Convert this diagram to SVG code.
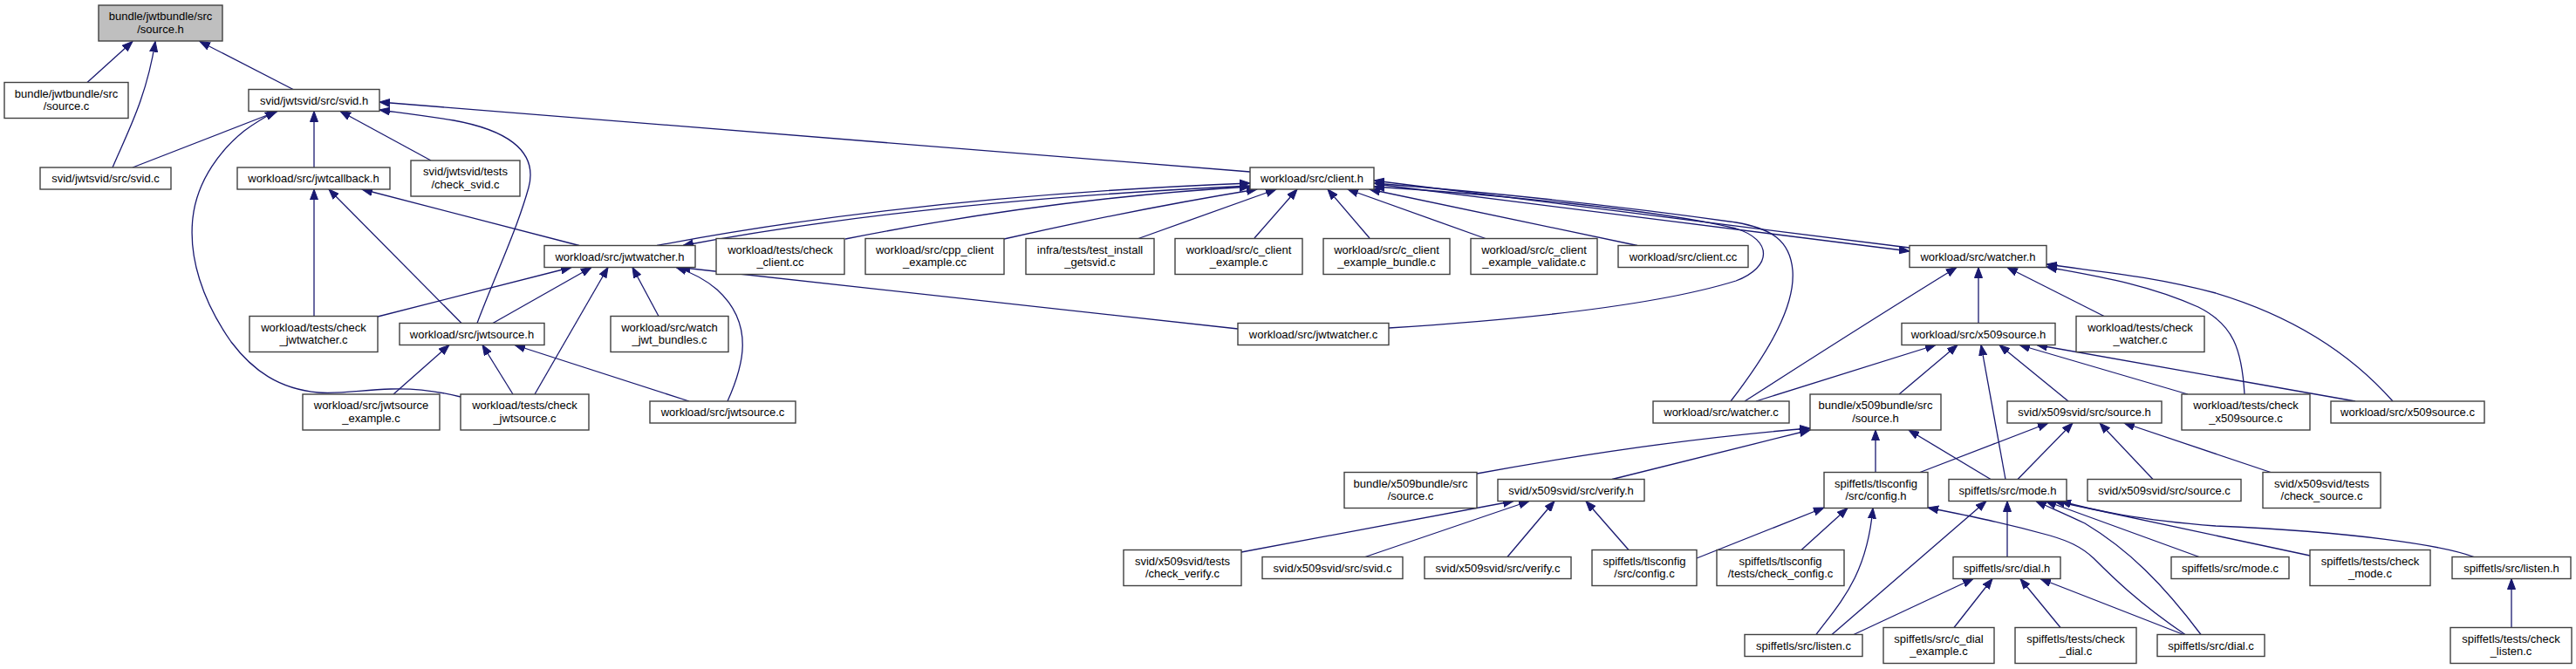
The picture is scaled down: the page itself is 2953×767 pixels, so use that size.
<svg xmlns="http://www.w3.org/2000/svg" width="2953" height="767" viewBox="0 0 2953 767">
<defs>
<style>
.n rect{fill:#ffffff;stroke:#404040;stroke-width:1.4}
.n.root rect{fill:#bfbfbf}
.n text{font-family:"Liberation Sans",Arial,sans-serif;font-size:13px;text-anchor:middle;fill:#000}
.e path{fill:none;stroke:#191970;stroke-width:1.3;marker-end:url(#a)}
</style>
<marker id="a" markerWidth="13" markerHeight="10" refX="12" refY="5" orient="auto" markerUnits="userSpaceOnUse"><path d="M0,0.5 L12,5 L0,9.5 z" fill="#191970" stroke="#191970" stroke-width="1"/></marker>
</defs>
<rect width="2953" height="767" fill="#ffffff"/>
<g id="connectors" class="e">
<path d="M100,94.5 L152,47.5"/>
<path d="M129,192 C146,152 168,112 178,47.5"/>
<path d="M336,102.5 L229,47.5"/>
<path d="M152,192 L318,127.5"/>
<path d="M360,192 L360,127.5"/>
<path d="M494,184 L390,127.5"/>
<path d="M528,455 C500,448 475,445 448,446 C415,447 390,452 365,450 C320,446 290,425 265,392 C232,345 216,295 221,250 C226,205 255,170 280,150 C292,141 304,134 316,127.5"/>
<path d="M547,370.5 C568,315 592,265 606,215 C618,170 575,148 520,138 C490,133 465,130 435,126"/>
<path d="M1433,197 L435,117"/>
<path d="M360,362.5 L360,217"/>
<path d="M529,370.5 L377,217"/>
<path d="M664,281.5 L415,217"/>
<path d="M753,281.5 Q1050,225 1433,210"/>
<path d="M1433,213 Q1050,231 783,281.5"/>
<path d="M1419,377 L779,306.5"/>
<path d="M969,274 Q1200,228 1433,214"/>
<path d="M1151,274 Q1300,240 1441,217"/>
<path d="M1305,273.5 L1463,217"/>
<path d="M1438,273 L1487,217"/>
<path d="M1570,273 L1522,217"/>
<path d="M1703,273.5 L1545,217"/>
<path d="M1877,281.5 L1570,217"/>
<path d="M1592,376 C1750,366 1900,350 1990,322 C2032,306 2032,275 1990,262 C1900,240 1700,222 1575,214"/>
<path d="M1984,460 C2030,400 2058,350 2055,310 C2052,275 2030,262 1990,255 C1850,235 1700,220 1575,210"/>
<path d="M2189,284 L1575,207"/>
<path d="M1577,211 L2189,288"/>
<path d="M433,363 L655,306.5"/>
<path d="M565,370.5 L678,306.5"/>
<path d="M613,452 L697,306.5"/>
<path d="M755,362.5 L725,306.5"/>
<path d="M834,460 C852,420 866,372 822,332 C808,320 792,312 775,306.5"/>
<path d="M451,452 L515,395.5"/>
<path d="M588,452 L553,395.5"/>
<path d="M790,460 L590,395.5"/>
<path d="M2000,460 Q2140,370 2243,306.5"/>
<path d="M2268,370.5 L2268,306.5"/>
<path d="M2412,362.5 L2301,306.5"/>
<path d="M2573,452 C2570,400 2560,372 2520,352 C2460,325 2400,316 2346,306"/>
<path d="M2743,460 C2690,400 2620,360 2540,336 C2460,315 2400,311 2346,303"/>
<path d="M2013,460 L2219,395.5"/>
<path d="M2177,452 L2244,395.5"/>
<path d="M2299,549.5 L2271,395.5"/>
<path d="M2371,460 L2292,395.5"/>
<path d="M2508,452 L2315,395.5"/>
<path d="M2700,460 L2335,395.5"/>
<path d="M1693,543 Q1900,505 2075,491"/>
<path d="M1848,549.5 L2075,493"/>
<path d="M2150,541.5 L2150,493"/>
<path d="M2282,549.5 L2188,493"/>
<path d="M2201,541.5 L2348,485"/>
<path d="M2313,549.5 L2376,485"/>
<path d="M2468,549.5 L2407,485"/>
<path d="M2603,541.5 L2435,485"/>
<path d="M1423,633 Q1600,600 1735,574.5"/>
<path d="M1565,638.5 L1753,574.5"/>
<path d="M1728,638.5 L1782,574.5"/>
<path d="M1867,630.5 L1818,574.5"/>
<path d="M1945,640 L2091,582"/>
<path d="M2065,630.5 L2118,582.5"/>
<path d="M2082,727.5 C2110,690 2140,660 2147,582.5"/>
<path d="M2505,727.5 C2450,690 2420,660 2400,640 C2385,626 2370,620 2350,614 C2300,600 2260,592 2210,582"/>
<path d="M2100,727.5 L2277,574.5"/>
<path d="M2301,638.5 L2301,574.5"/>
<path d="M2523,727.5 C2480,670 2440,630 2390,600 C2365,588 2350,582 2334,574.5"/>
<path d="M2521,638.5 L2345,574.5"/>
<path d="M2648,637 L2355,574.5"/>
<path d="M2836,638.5 C2800,625 2700,610 2540,603 C2450,596 2400,585 2362,574.5"/>
<path d="M2125,727.5 L2262,663.5"/>
<path d="M2240,719.5 L2284,663.5"/>
<path d="M2362,719.5 L2316,663.5"/>
<path d="M2503,727.5 L2339,663.5"/>
<path d="M2879,719.5 L2879,663.5"/>
</g>
<g id="n_root" class="n root"><rect x="113" y="6" width="142" height="41"/><text x="184" y="23">bundle/jwtbundle/src</text><text x="184" y="37.5">/source.h</text></g>
<g id="n_jb_source_c" class="n"><rect x="5" y="94.5" width="142" height="41"/><text x="76" y="111.5">bundle/jwtbundle/src</text><text x="76" y="126">/source.c</text></g>
<g id="n_svid_h" class="n"><rect x="285" y="102.5" width="150" height="25"/><text x="360" y="119.6">svid/jwtsvid/src/svid.h</text></g>
<g id="n_svid_c" class="n"><rect x="46" y="192" width="150" height="25"/><text x="121" y="209">svid/jwtsvid/src/svid.c</text></g>
<g id="n_jwtcallback_h" class="n"><rect x="272" y="192" width="175" height="25"/><text x="359.5" y="209">workload/src/jwtcallback.h</text></g>
<g id="n_check_svid" class="n"><rect x="471" y="184" width="125" height="41"/><text x="533.5" y="201">svid/jwtsvid/tests</text><text x="533.5" y="215.5">/check_svid.c</text></g>
<g id="n_client_h" class="n"><rect x="1433" y="192" width="142" height="25"/><text x="1504" y="209">workload/src/client.h</text></g>
<g id="n_jwtwatcher_h" class="n"><rect x="624" y="281.5" width="173" height="25"/><text x="710.5" y="298.5">workload/src/jwtwatcher.h</text></g>
<g id="n_check_client" class="n"><rect x="821" y="273.5" width="147" height="41"/><text x="894.5" y="290.5">workload/tests/check</text><text x="894.5" y="305">_client.cc</text></g>
<g id="n_cpp_client" class="n"><rect x="992" y="273.5" width="159" height="41"/><text x="1071.5" y="290.5">workload/src/cpp_client</text><text x="1071.5" y="305">_example.cc</text></g>
<g id="n_infra" class="n"><rect x="1176" y="273.5" width="147" height="41"/><text x="1249.5" y="290.5">infra/tests/test_install</text><text x="1249.5" y="305">_getsvid.c</text></g>
<g id="n_c_client_ex" class="n"><rect x="1347" y="273.5" width="146" height="41"/><text x="1420" y="290.5">workload/src/c_client</text><text x="1420" y="305">_example.c</text></g>
<g id="n_c_client_bundle" class="n"><rect x="1517" y="273.5" width="145" height="41"/><text x="1589.5" y="290.5">workload/src/c_client</text><text x="1589.5" y="305">_example_bundle.c</text></g>
<g id="n_c_client_validate" class="n"><rect x="1686" y="273.5" width="145" height="41"/><text x="1758.5" y="290.5">workload/src/c_client</text><text x="1758.5" y="305">_example_validate.c</text></g>
<g id="n_client_cc" class="n"><rect x="1855" y="281.5" width="149" height="25"/><text x="1929.5" y="298.5">workload/src/client.cc</text></g>
<g id="n_watcher_h" class="n"><rect x="2189" y="281.5" width="157" height="25"/><text x="2267.5" y="298.5">workload/src/watcher.h</text></g>
<g id="n_check_jwtwatcher" class="n"><rect x="286" y="362.5" width="147" height="41"/><text x="359.5" y="379.5">workload/tests/check</text><text x="359.5" y="394">_jwtwatcher.c</text></g>
<g id="n_jwtsource_h" class="n"><rect x="458" y="370.5" width="166" height="25"/><text x="541" y="387.5">workload/src/jwtsource.h</text></g>
<g id="n_watch_jwt" class="n"><rect x="700" y="362.5" width="135" height="41"/><text x="767.5" y="379.5">workload/src/watch</text><text x="767.5" y="394">_jwt_bundles.c</text></g>
<g id="n_jwtwatcher_c" class="n"><rect x="1419" y="370.5" width="173" height="25"/><text x="1505.5" y="387.5">workload/src/jwtwatcher.c</text></g>
<g id="n_x509source_h" class="n"><rect x="2180" y="370.5" width="176" height="25"/><text x="2268" y="387.5">workload/src/x509source.h</text></g>
<g id="n_check_watcher" class="n"><rect x="2380" y="362.5" width="147" height="41"/><text x="2453.5" y="379.5">workload/tests/check</text><text x="2453.5" y="394">_watcher.c</text></g>
<g id="n_jwtsource_ex" class="n"><rect x="347" y="452" width="157" height="41"/><text x="425.5" y="469">workload/src/jwtsource</text><text x="425.5" y="483.5">_example.c</text></g>
<g id="n_check_jwtsource" class="n"><rect x="528" y="452" width="147" height="41"/><text x="601.5" y="469">workload/tests/check</text><text x="601.5" y="483.5">_jwtsource.c</text></g>
<g id="n_jwtsource_c" class="n"><rect x="745" y="460" width="167" height="25"/><text x="828.5" y="477">workload/src/jwtsource.c</text></g>
<g id="n_watcher_c" class="n"><rect x="1895" y="460" width="156" height="25"/><text x="1973" y="477">workload/src/watcher.c</text></g>
<g id="n_xb_source_h" class="n"><rect x="2075" y="452" width="150" height="41"/><text x="2150" y="469">bundle/x509bundle/src</text><text x="2150" y="483.5">/source.h</text></g>
<g id="n_xs_source_h" class="n"><rect x="2301" y="460" width="177" height="25"/><text x="2389.5" y="477">svid/x509svid/src/source.h</text></g>
<g id="n_check_x509source" class="n"><rect x="2501" y="452" width="147" height="41"/><text x="2574.5" y="469">workload/tests/check</text><text x="2574.5" y="483.5">_x509source.c</text></g>
<g id="n_x509source_c" class="n"><rect x="2672" y="460" width="176" height="25"/><text x="2760" y="477">workload/src/x509source.c</text></g>
<g id="n_xb_source_c" class="n"><rect x="1541" y="541.5" width="152" height="41"/><text x="1617" y="558.5">bundle/x509bundle/src</text><text x="1617" y="573">/source.c</text></g>
<g id="n_verify_h" class="n"><rect x="1717" y="549.5" width="168" height="25"/><text x="1801" y="566.5">svid/x509svid/src/verify.h</text></g>
<g id="n_config_h" class="n"><rect x="2091" y="541.5" width="119" height="41"/><text x="2150.5" y="558.5">spiffetls/tlsconfig</text><text x="2150.5" y="573">/src/config.h</text></g>
<g id="n_mode_h" class="n"><rect x="2234" y="549.5" width="135" height="25"/><text x="2301.5" y="566.5">spiffetls/src/mode.h</text></g>
<g id="n_xs_source_c" class="n"><rect x="2393" y="549.5" width="176" height="25"/><text x="2481" y="566.5">svid/x509svid/src/source.c</text></g>
<g id="n_check_source" class="n"><rect x="2594" y="541.5" width="135" height="41"/><text x="2661.5" y="558.5">svid/x509svid/tests</text><text x="2661.5" y="573">/check_source.c</text></g>
<g id="n_check_verify" class="n"><rect x="1288" y="630.5" width="135" height="41"/><text x="1355.5" y="647.5">svid/x509svid/tests</text><text x="1355.5" y="662">/check_verify.c</text></g>
<g id="n_xs_svid_c" class="n"><rect x="1447" y="638.5" width="161" height="25"/><text x="1527.5" y="655.5">svid/x509svid/src/svid.c</text></g>
<g id="n_verify_c" class="n"><rect x="1633" y="638.5" width="168" height="25"/><text x="1717" y="655.5">svid/x509svid/src/verify.c</text></g>
<g id="n_config_c" class="n"><rect x="1825" y="630.5" width="120" height="41"/><text x="1885" y="647.5">spiffetls/tlsconfig</text><text x="1885" y="662">/src/config.c</text></g>
<g id="n_check_config" class="n"><rect x="1968" y="630.5" width="146" height="41"/><text x="2041" y="647.5">spiffetls/tlsconfig</text><text x="2041" y="662">/tests/check_config.c</text></g>
<g id="n_dial_h" class="n"><rect x="2239" y="638.5" width="123" height="25"/><text x="2300.5" y="655.5">spiffetls/src/dial.h</text></g>
<g id="n_mode_c" class="n"><rect x="2489" y="638.5" width="135" height="25"/><text x="2556.5" y="655.5">spiffetls/src/mode.c</text></g>
<g id="n_check_mode" class="n"><rect x="2648" y="630.5" width="138" height="41"/><text x="2717" y="647.5">spiffetls/tests/check</text><text x="2717" y="662">_mode.c</text></g>
<g id="n_listen_h" class="n"><rect x="2811" y="638.5" width="136" height="25"/><text x="2879" y="655.5">spiffetls/src/listen.h</text></g>
<g id="n_listen_c" class="n"><rect x="2000" y="727.5" width="135" height="25"/><text x="2067.5" y="744.5">spiffetls/src/listen.c</text></g>
<g id="n_c_dial" class="n"><rect x="2159" y="719.5" width="127" height="41"/><text x="2222.5" y="736.5">spiffetls/src/c_dial</text><text x="2222.5" y="751">_example.c</text></g>
<g id="n_check_dial" class="n"><rect x="2310" y="719.5" width="139" height="41"/><text x="2379.5" y="736.5">spiffetls/tests/check</text><text x="2379.5" y="751">_dial.c</text></g>
<g id="n_dial_c" class="n"><rect x="2473" y="727.5" width="123" height="25"/><text x="2534.5" y="744.5">spiffetls/src/dial.c</text></g>
<g id="n_check_listen" class="n"><rect x="2809" y="719.5" width="139" height="41"/><text x="2878.5" y="736.5">spiffetls/tests/check</text><text x="2878.5" y="751">_listen.c</text></g>
</svg>
